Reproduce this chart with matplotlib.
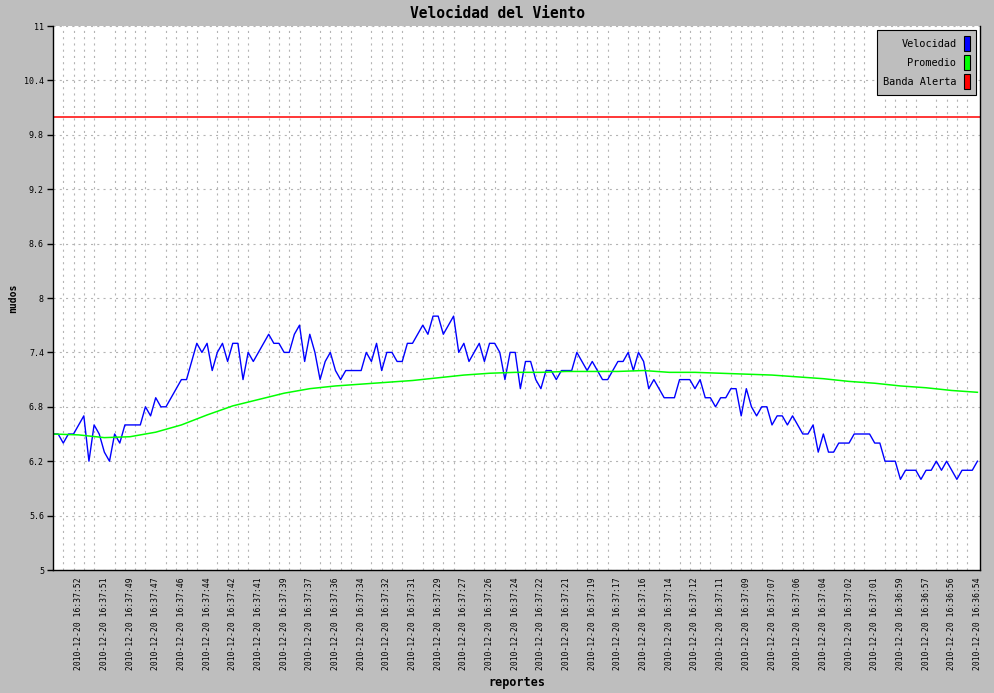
import matplotlib
matplotlib.use("Agg")
import matplotlib.pyplot as plt
from matplotlib.patches import Patch
import numpy as np

# velocidad por reporte (nudos)
velocidad = [
    6.5, 6.5, 6.4, 6.5, 6.5, 6.6, 6.7, 6.2, 6.6, 6.5,
    6.3, 6.2, 6.5, 6.4, 6.6, 6.6, 6.6, 6.6, 6.8, 6.7,
    6.9, 6.8, 6.8, 6.9, 7.0, 7.1, 7.1, 7.3, 7.5, 7.4,
    7.5, 7.2, 7.4, 7.5, 7.3, 7.5, 7.5, 7.1, 7.4, 7.3,
    7.4, 7.5, 7.6, 7.5, 7.5, 7.4, 7.4, 7.6, 7.7, 7.3,
    7.6, 7.4, 7.1, 7.3, 7.4, 7.2, 7.1, 7.2, 7.2, 7.2,
    7.2, 7.4, 7.3, 7.5, 7.2, 7.4, 7.4, 7.3, 7.3, 7.5,
    7.5, 7.6, 7.7, 7.6, 7.8, 7.8, 7.6, 7.7, 7.8, 7.4,
    7.5, 7.3, 7.4, 7.5, 7.3, 7.5, 7.5, 7.4, 7.1, 7.4,
    7.4, 7.0, 7.3, 7.3, 7.1, 7.0, 7.2, 7.2, 7.1, 7.2,
    7.2, 7.2, 7.4, 7.3, 7.2, 7.3, 7.2, 7.1, 7.1, 7.2,
    7.3, 7.3, 7.4, 7.2, 7.4, 7.3, 7.0, 7.1, 7.0, 6.9,
    6.9, 6.9, 7.1, 7.1, 7.1, 7.0, 7.1, 6.9, 6.9, 6.8,
    6.9, 6.9, 7.0, 7.0, 6.7, 7.0, 6.8, 6.7, 6.8, 6.8,
    6.6, 6.7, 6.7, 6.6, 6.7, 6.6, 6.5, 6.5, 6.6, 6.3,
    6.5, 6.3, 6.3, 6.4, 6.4, 6.4, 6.5, 6.5, 6.5, 6.5,
    6.4, 6.4, 6.2, 6.2, 6.2, 6.0, 6.1, 6.1, 6.1, 6.0,
    6.1, 6.1, 6.2, 6.1, 6.2, 6.1, 6.0, 6.1, 6.1, 6.1, 6.2,
]

# promedio, leido cada 5 reportes
promedio_idx = list(range(0, 181, 5))
promedio = [
    6.50, 6.49, 6.46, 6.47, 6.52, 6.60, 6.71, 6.81, 6.88, 6.95,
    7.00, 7.03, 7.05, 7.07, 7.09, 7.12, 7.15, 7.17, 7.18, 7.18,
    7.19, 7.19, 7.19, 7.20, 7.18, 7.18, 7.17, 7.16, 7.15, 7.13,
    7.11, 7.08, 7.06, 7.03, 7.01, 6.98, 6.96,
]

banda_alerta = 10.0

fecha = "2010-12-20"
horas = [
    "16:37:52", "16:37:51", "16:37:49", "16:37:47", "16:37:46", "16:37:44",
    "16:37:42", "16:37:41", "16:37:39", "16:37:37", "16:37:36", "16:37:34",
    "16:37:32", "16:37:31", "16:37:29", "16:37:27", "16:37:26", "16:37:24",
    "16:37:22", "16:37:21", "16:37:19", "16:37:17", "16:37:16", "16:37:14",
    "16:37:12", "16:37:11", "16:37:09", "16:37:07", "16:37:06", "16:37:04",
    "16:37:02", "16:37:01", "16:36:59", "16:36:57", "16:36:56", "16:36:54",
]
hora_idx = list(range(5, 181, 5))

plt.rcParams['font.family'] = ['DejaVu Sans Mono']
plt.rcParams['lines.scale_dashes'] = False
fondo = '#bebebe'

fig = plt.figure(figsize=(9.95, 6.93), dpi=100, facecolor=fondo)
ax = fig.add_axes([53 / 995, 123 / 693, 927 / 995, 544 / 693])
ax.set_facecolor('white')

x = np.arange(len(velocidad))
ax.plot(x, velocidad, color='#0000ff', lw=1.0, label='Velocidad')
ax.plot(promedio_idx, promedio, color='#00ff00', lw=1.1, label='Promedio')
ax.axhline(banda_alerta, color='#ff0000', lw=1.1, label='Banda Alerta')

ax.set_xlim(0, 180.5)
ax.set_ylim(5, 11)
yt = np.round(np.arange(5, 11.01, 0.6), 1)
ax.set_yticks(yt)
ax.set_yticklabels(['%g' % v for v in yt], fontsize=6)
ax.set_xticks(hora_idx)
ax.set_xticklabels(['%s %s' % (fecha, h) for h in horas], rotation=90,
                   fontsize=5.8)
ax.set_xticks(np.arange(2, 181, 2), minor=True)

ax.tick_params(axis='y', direction='out', length=4.5, width=1.0, pad=2)
ax.tick_params(axis='x', which='both', length=0, pad=5)

ax.grid(axis='y', which='major', color='#b4b4b4', lw=0.8, ls=(0, (1.5, 3)))
ax.grid(axis='x', which='minor', color='#b4b4b4', lw=0.8, ls=(0, (1.5, 3)))
ax.set_axisbelow(True)

ax.spines['top'].set_visible(False)
for s in ['left', 'bottom', 'right']:
    ax.spines[s].set_linewidth(1.0)

fig.text(0.5, 1 - 13 / 693, 'Velocidad del Viento', ha='center', va='center',
         fontsize=10.5, fontweight='bold')
ax.set_ylabel('nudos', fontsize=7, fontweight='bold')
ax.yaxis.set_label_coords(-35 / 927, 0.5)
ax.set_xlabel('reportes', fontsize=8.5, fontweight='bold')
ax.xaxis.set_label_coords(0.5, -106 / 544)

handles = [Patch(facecolor=c, edgecolor='black', lw=0.8)
           for c in ['#0000ff', '#00ff00', '#ff0000']]
leg = ax.legend(handles, ['Velocidad', 'Promedio', 'Banda Alerta'],
                loc='upper right', markerfirst=False, fontsize=7.4,
                fancybox=False, edgecolor='black', facecolor=fondo,
                framealpha=1, handlelength=0.6, handleheight=1.9,
                handletextpad=0.7, labelspacing=0.35, borderpad=0.6,
                borderaxespad=0.4)
leg.get_frame().set_linewidth(0.8)

fig.savefig('out.png', dpi=100, facecolor=fondo)
